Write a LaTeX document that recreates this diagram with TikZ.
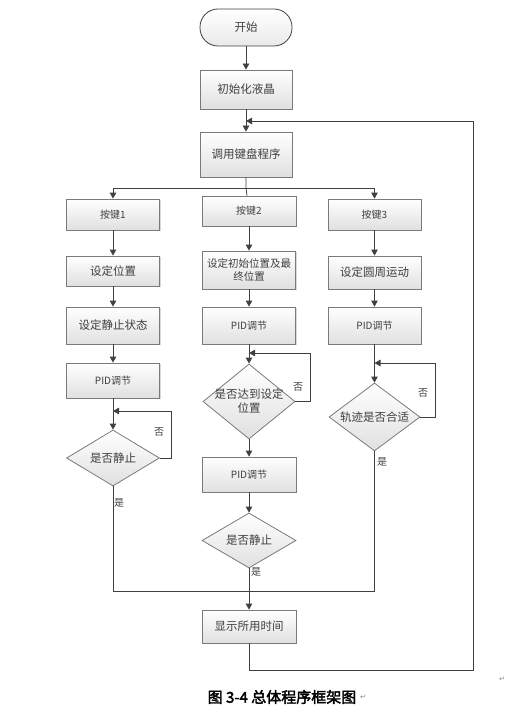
\documentclass[tikz,border=0pt]{standalone}
\usepackage{fontspec}
\setmainfont[AutoFakeBold=2.5]{Noto Sans CJK SC}
\newfontfamily\symfont{DejaVu Sans}
\usetikzlibrary{arrows.meta,shapes.geometric,shadows}
\definecolor{lnc}{HTML}{404040}
\definecolor{bdc}{HTML}{7A7A7A}
\definecolor{fbot}{HTML}{E0E0E0}
\begin{document}
\begin{tikzpicture}[x=1pt,y=-1pt,
  blk/.style={rectangle, draw=bdc, line width=0.8pt, top color=white, bottom color=fbot, text=lnc,
    font=\fontsize{11.5}{13}\selectfont, inner sep=1pt, align=center,
    drop shadow={shadow xshift=1.2pt, shadow yshift=-1.2pt, opacity=0.3}},
  dia/.style={diamond, draw=bdc, line width=0.8pt, top color=white, bottom color=fbot, inner sep=0pt},
  dtxt/.style={text=lnc, font=\fontsize{11.5}{14}\selectfont, align=center},
  lab/.style={text=lnc, font=\fontsize{10}{12}\selectfont},
  arr/.style={draw=lnc, line width=0.8pt, -{Triangle[length=6pt,width=6.5pt]}},
  ln/.style={draw=lnc, line width=0.8pt}]
\useasboundingbox (0,0) rectangle (527,714);
\node[rectangle, rounded corners=18pt, draw=lnc, line width=0.8pt, top color=white, bottom color=fbot!70,
  text=lnc, font=\fontsize{11.5}{13}\selectfont, minimum width=92pt, minimum height=37pt] (nid0) at (246,27.5){开始};
\node[blk, minimum width=92pt, minimum height=39pt] (nid1) at (246,89.5){初始化液晶};
\node[blk, minimum width=92pt, minimum height=45pt] (nid2) at (246,154.5){调用键盘程序};
\draw[arr](nid0) -- (nid1);
\draw[arr](nid1) -- (nid2);
\coordinate (br) at (246,188);
\node[blk, font=\fontsize{10}{12}\selectfont, minimum width=93pt, minimum height=31pt] (nid3) at (113,214.5){按键1};
\node[blk, minimum width=93pt, minimum height=30pt] (nid4) at (113,271){设定位置};
\node[blk, minimum width=93pt, minimum height=37pt] (nid5) at (113,325.5){设定静止状态};
\node[blk, font=\fontsize{10}{12}\selectfont, minimum width=93pt, minimum height=35pt] (nid6) at (113,380.5){PID调节};
\node[dia, minimum width=93pt, minimum height=56pt, label={[dtxt]center:是否静止}] (nid7) at (113,458){};
\draw[arr](br) -| (nid3);
\draw[arr](nid3) -- (nid4);
\draw[arr](nid4) -- (nid5);
\draw[arr](nid5) -- (nid6);
\draw[arr](nid6) -- (nid7);
\coordinate (lp1) at (171,411);
\coordinate (jn1) at (113,411);
\draw[arr](nid7.east) -| (lp1) -- (jn1);
\node[lab] (lb0) at (159,432){否};
\node[lab] (lb1) at (119,503){是};
\node[blk, font=\fontsize{10}{12}\selectfont, minimum width=94pt, minimum height=30pt] (nid8) at (249,211){按键2};
\node[blk, font=\fontsize{10.5}{13}\selectfont, minimum width=93pt, minimum height=38pt, inner sep=0pt] (nid9) at (249,270){设定初始位置及最\\终位置};
\node[blk, font=\fontsize{10}{12}\selectfont, minimum width=93pt, minimum height=37pt] (nid10) at (249,325.5){PID调节};
\node[dia, minimum width=92pt, minimum height=75pt, label={[dtxt]center:是否达到设定\\位置}] (nid11) at (249,401.5){};
\node[blk, font=\fontsize{10}{12}\selectfont, minimum width=94pt, minimum height=35pt] (nid12) at (249,474.5){PID调节};
\node[dia, minimum width=94pt, minimum height=55pt, label={[dtxt]center:是否静止}] (nid13) at (249,540.5){};
\node[blk, minimum width=94pt, minimum height=33pt] (nid14) at (249,626.5){显示所用时间};
\draw[ln](nid2) -- (br) -- (nid8);
\draw[arr](nid8) -- (nid9);
\draw[arr](nid9) -- (nid10);
\draw[arr](nid10) -- (nid11);
\coordinate (lp2) at (310,353);
\coordinate (jn2) at (249,353);
\draw[arr](nid11.east) -| (lp2) -- (jn2);
\node[lab] (lb2) at (298,387){否};
\draw[arr](nid11) -- (nid12);
\draw[arr](nid12) -- (nid13);
\draw[arr](nid13) -- (nid14);
\node[lab] (lb3) at (256,572){是};
\node[blk, font=\fontsize{10}{12}\selectfont, minimum width=93pt, minimum height=31pt] (nid15) at (374.5,214.5){按键3};
\node[blk, minimum width=93pt, minimum height=33pt] (nid16) at (374.5,272.5){设定圆周运动};
\node[blk, font=\fontsize{10}{12}\selectfont, minimum width=93pt, minimum height=37pt] (nid17) at (374.5,325.5){PID调节};
\node[dia, minimum width=91pt, minimum height=68pt, label={[dtxt]center:轨迹是否合适}] (nid18) at (374.5,417){};
\draw[arr](br) -| (nid15);
\draw[arr](nid15) -- (nid16);
\draw[arr](nid16) -- (nid17);
\draw[arr](nid17) -- (nid18);
\coordinate (lp3) at (435,363);
\coordinate (jn3) at (374.5,363);
\draw[arr](nid18.east) -| (lp3) -- (jn3);
\node[lab] (lb4) at (423,393){否};
\node[lab] (lb5) at (382,462){是};
\coordinate (mg1) at (113,591);
\coordinate (mg3) at (374.5,591);
\draw[ln](nid7) -- (mg1) -- (mg3) -- (nid18);
\coordinate (rt1) at (249,670);
\coordinate (rt2) at (473,670);
\coordinate (rt3) at (473,121);
\coordinate (rt4) at (246,121);
\draw[arr](nid14) -- (rt1) -- (rt2) -- (rt3) -- (rt4);
\node[font=\bfseries\fontsize{15}{17}\selectfont] (cap) at (282,697){图 3-4 总体程序框架图};
\node[text=gray, font=\symfont\fontsize{7}{8}\selectfont, anchor=west, inner sep=0pt] (pm0) at (cap.east){↵};
\node[text=gray, font=\symfont\fontsize{7}{8}\selectfont] (pm1) at (502,679){↵};
\end{tikzpicture}
\end{document}
